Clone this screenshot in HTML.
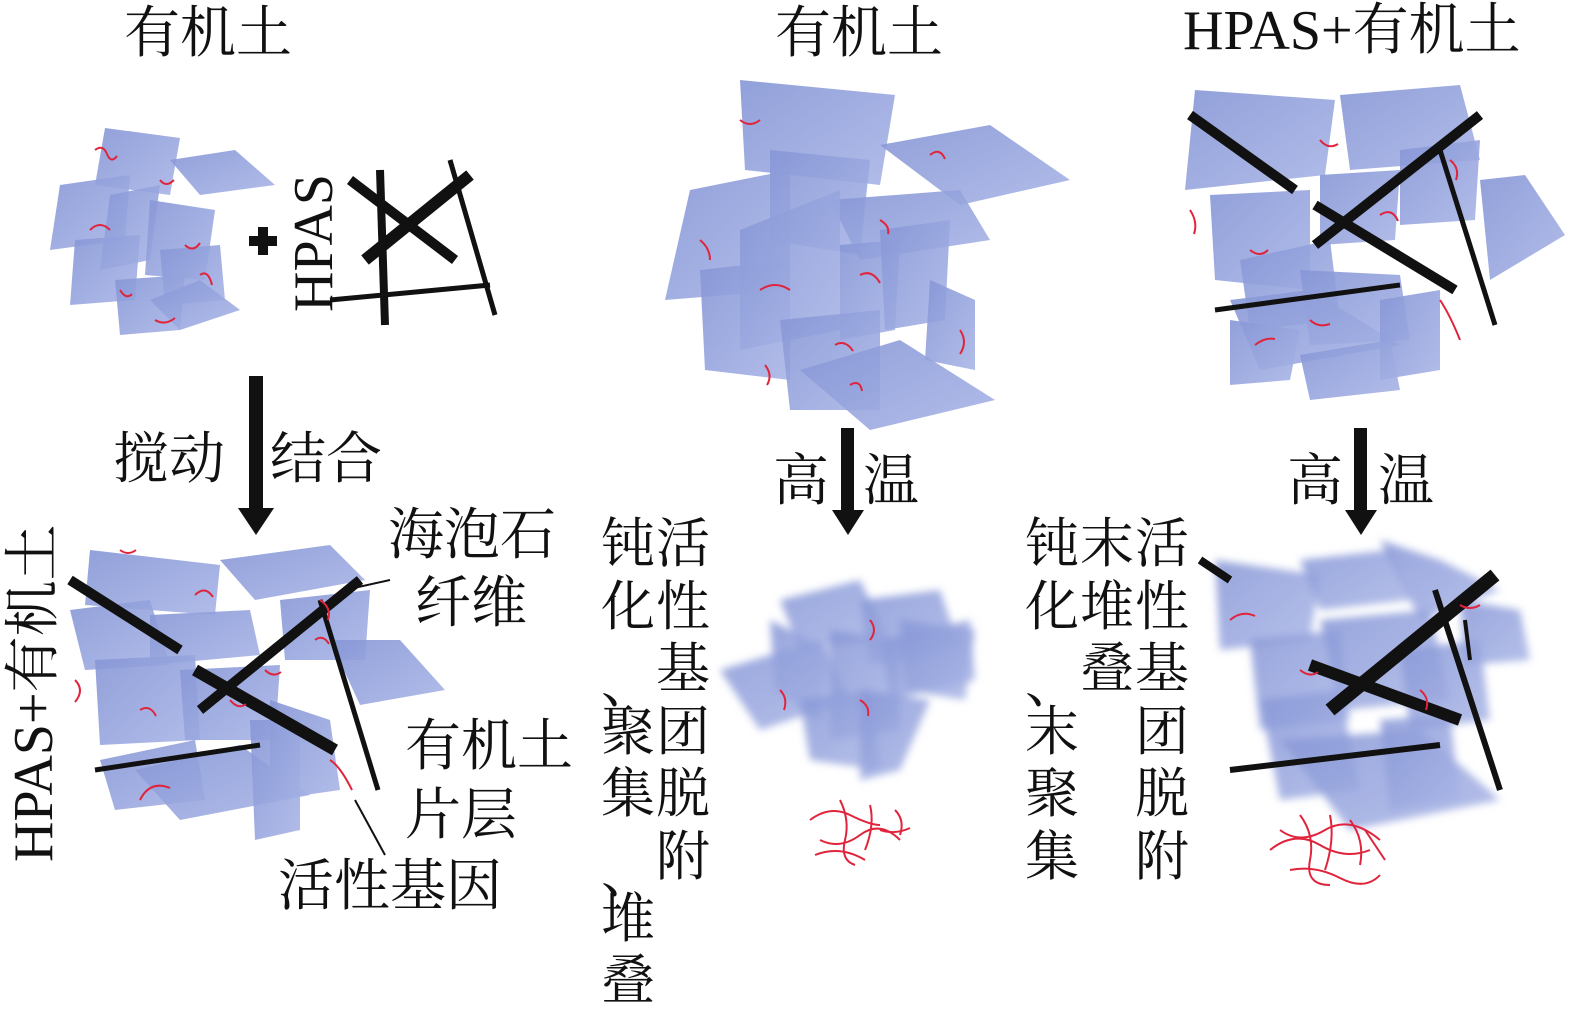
<!DOCTYPE html>
<html><head><meta charset="utf-8"><style>
html,body{margin:0;padding:0;background:#fff;}
svg{display:block}
text{font-family:"Liberation Serif","Noto Serif CJK SC",serif;fill:#111;}
</style></head><body>
<svg width="1575" height="1018" viewBox="0 0 1575 1018" xmlns="http://www.w3.org/2000/svg">
<defs>
<linearGradient id="g" x1="0" y1="0" x2="1" y2="1">
<stop offset="0" stop-color="#8696d6"/><stop offset="1" stop-color="#a9b5e6"/></linearGradient>
<filter id="bl"><feGaussianBlur stdDeviation="4"/></filter>
</defs>
<g fill="url(#g)" fill-opacity="0.9" stroke="none">
<polygon points="105,128 180,138 170,195 95,185"/>
<polygon points="60,185 130,175 125,240 50,250"/>
<polygon points="170,160 235,150 275,185 200,195"/>
<polygon points="110,195 160,185 150,260 100,270"/>
<polygon points="150,200 215,210 205,280 145,275"/>
<polygon points="75,240 140,235 135,300 70,305"/>
<polygon points="115,280 185,275 180,330 120,335"/>
<polygon points="160,250 220,245 225,300 165,305"/>
<polygon points="150,300 200,280 240,310 180,330"/>
<polygon points="740,80 895,95 880,185 745,170"/>
<polygon points="880,145 990,125 1070,180 960,205"/>
<polygon points="690,190 790,170 790,290 665,300"/>
<polygon points="770,150 870,160 860,255 770,240"/>
<polygon points="830,200 960,190 990,240 860,260"/>
<polygon points="740,230 840,190 840,330 740,350"/>
<polygon points="700,270 790,260 790,380 705,370"/>
<polygon points="840,245 900,240 895,330 840,340"/>
<polygon points="880,230 950,220 945,320 885,330"/>
<polygon points="930,280 975,300 975,370 925,360"/>
<polygon points="780,320 880,310 880,410 790,410"/>
<polygon points="800,370 900,340 995,400 870,430"/>
<polygon points="1195,90 1335,100 1325,175 1185,190"/>
<polygon points="1340,95 1460,85 1480,160 1350,170"/>
<polygon points="1320,175 1400,170 1395,240 1320,245"/>
<polygon points="1210,195 1310,190 1310,290 1215,280"/>
<polygon points="1400,150 1480,140 1475,220 1400,225"/>
<polygon points="1480,180 1525,175 1565,235 1490,280"/>
<polygon points="1240,260 1330,240 1340,320 1250,330"/>
<polygon points="1300,270 1400,275 1410,340 1310,345"/>
<polygon points="1230,300 1310,290 1400,345 1260,370"/>
<polygon points="1230,320 1300,330 1290,380 1230,385"/>
<polygon points="1380,300 1440,290 1440,370 1380,380"/>
<polygon points="1300,355 1390,340 1400,390 1310,400"/>
<polygon points="90,550 220,565 215,615 85,605"/>
<polygon points="220,560 330,545 365,580 255,600"/>
<polygon points="70,610 150,600 170,665 85,670"/>
<polygon points="150,615 250,610 260,655 150,665"/>
<polygon points="280,600 370,590 365,660 285,660"/>
<polygon points="330,640 400,640 445,690 360,705"/>
<polygon points="95,660 195,655 200,740 100,745"/>
<polygon points="180,670 280,665 275,740 185,740"/>
<polygon points="270,700 330,720 340,790 270,800"/>
<polygon points="100,760 195,740 205,800 115,810"/>
<polygon points="135,770 240,745 310,795 180,820"/>
<polygon points="250,720 300,720 300,830 255,840"/>
</g>
<g fill="url(#g)" fill-opacity="0.85" filter="url(#bl)">
<polygon points="780,600 860,580 890,640 800,650"/>
<polygon points="860,600 940,590 960,650 870,665"/>
<polygon points="770,620 830,650 820,720 775,690"/>
<polygon points="720,670 820,640 850,700 760,730"/>
<polygon points="830,630 900,640 900,730 830,740"/>
<polygon points="880,640 970,620 975,680 890,700"/>
<polygon points="800,700 870,690 880,770 810,760"/>
<polygon points="860,690 930,700 900,770 860,780"/>
<polygon points="900,620 975,630 965,700 905,690"/>
<polygon points="1215,560 1320,575 1310,640 1220,650"/>
<polygon points="1300,560 1390,550 1410,600 1320,610"/>
<polygon points="1380,540 1440,560 1500,590 1420,620"/>
<polygon points="1460,600 1520,610 1530,660 1465,665"/>
<polygon points="1250,640 1340,630 1350,720 1260,730"/>
<polygon points="1320,620 1430,610 1450,700 1340,710"/>
<polygon points="1400,650 1480,640 1490,720 1410,730"/>
<polygon points="1260,700 1340,690 1360,790 1280,800"/>
<polygon points="1280,740 1420,730 1500,800 1350,830"/>
<polygon points="1380,720 1450,715 1460,800 1390,810"/>
</g>
<g stroke="#111" stroke-linecap="butt">
<line x1="365" y1="260" x2="470" y2="175" stroke-width="12"/>
<line x1="350" y1="180" x2="455" y2="260" stroke-width="10"/>
<line x1="380" y1="170" x2="385" y2="325" stroke-width="8"/>
<line x1="450" y1="160" x2="495" y2="315" stroke-width="5"/>
<line x1="330" y1="300" x2="490" y2="285" stroke-width="5"/>
<line x1="1190" y1="115" x2="1295" y2="190" stroke-width="10"/>
<line x1="1315" y1="205" x2="1455" y2="290" stroke-width="10"/>
<line x1="1315" y1="245" x2="1480" y2="115" stroke-width="10"/>
<line x1="1440" y1="150" x2="1495" y2="325" stroke-width="5"/>
<line x1="1215" y1="310" x2="1400" y2="285" stroke-width="5"/>
<line x1="70" y1="580" x2="180" y2="650" stroke-width="10"/>
<line x1="195" y1="670" x2="335" y2="750" stroke-width="12"/>
<line x1="200" y1="710" x2="360" y2="580" stroke-width="10"/>
<line x1="320" y1="600" x2="378" y2="790" stroke-width="5"/>
<line x1="95" y1="770" x2="260" y2="745" stroke-width="5"/>
<line x1="1200" y1="560" x2="1230" y2="580" stroke-width="8"/>
<line x1="1330" y1="710" x2="1495" y2="575" stroke-width="14"/>
<line x1="1310" y1="665" x2="1460" y2="720" stroke-width="12"/>
<line x1="1435" y1="590" x2="1500" y2="790" stroke-width="6"/>
<line x1="1230" y1="770" x2="1440" y2="745" stroke-width="6"/>
<line x1="1465" y1="620" x2="1470" y2="660" stroke-width="4"/>
<line x1="345" y1="590" x2="390" y2="580" stroke-width="2"/>
<line x1="355" y1="800" x2="385" y2="855" stroke-width="2"/>
</g>
<g stroke="#e0243c" stroke-width="2" fill="none">
<path d="M95,150 q8,-6 12,4 t10,2"/><path d="M160,180 q6,8 14,0"/><path d="M90,230 q10,-10 20,0"/><path d="M185,245 q8,8 15,-2"/><path d="M120,290 q6,10 12,4"/><path d="M200,275 q8,-6 12,10"/><path d="M155,320 q10,6 20,-2"/>
<path d="M740,120 q10,8 20,0"/><path d="M930,155 q10,-8 15,4"/><path d="M700,240 q10,8 10,20"/><path d="M760,290 q15,-10 30,0"/><path d="M860,275 q12,-6 20,8"/><path d="M880,220 q10,6 8,14"/><path d="M960,330 q8,12 0,24"/><path d="M835,345 q10,-6 18,6"/><path d="M765,365 q8,10 2,20"/><path d="M850,385 q10,-6 12,6"/>
<path d="M1320,140 q8,10 18,4"/><path d="M1450,160 q10,8 6,20"/><path d="M1190,210 q8,12 4,24"/><path d="M1380,215 q12,-8 18,6"/><path d="M1250,250 q10,8 18,0"/><path d="M1440,300 q10,15 20,40"/><path d="M1255,345 q10,-8 20,-6"/><path d="M1310,320 q8,8 20,4"/>
<path d="M120,550 q8,6 16,0"/><path d="M195,595 q10,-10 18,2"/><path d="M320,600 q12,8 8,20"/><path d="M75,680 q10,10 0,22"/><path d="M140,710 q10,-6 16,6"/><path d="M230,700 q8,10 16,4"/><path d="M140,800 q10,-20 30,-12"/><path d="M330,760 q10,6 22,30"/><path d="M315,640 q8,-6 14,4"/><path d="M265,670 q8,8 16,2"/>
<path d="M870,620 q8,10 0,20"/><path d="M780,690 q8,8 4,20"/><path d="M860,700 q10,6 8,16"/>
<path d="M1230,620 q12,-10 25,-4"/><path d="M1460,605 q10,6 20,0"/><path d="M1420,690 q10,8 6,20"/><path d="M1300,670 q10,8 18,2"/>
<path d="M810,820 q20,-15 40,-5 t30,10"/><path d="M820,840 q20,10 40,-5 t40,5"/><path d="M815,855 q25,-10 50,5"/><path d="M840,800 q10,20 5,40 t10,25"/><path d="M870,805 q5,20 -5,45"/><path d="M895,810 q10,10 5,25"/><path d="M880,830 q15,5 30,-2"/>
<path d="M1270,850 q25,-20 50,-5 t50,5"/><path d="M1280,830 q20,15 45,0 t55,10"/><path d="M1300,815 q15,20 10,45 t20,25"/><path d="M1330,815 q5,25 -5,55"/><path d="M1350,820 q15,20 10,45"/><path d="M1290,870 q25,-5 50,8 t40,-3"/><path d="M1365,830 q10,15 20,30"/>
</g>
<g fill="#111">
<rect x="249" y="376" width="14" height="135"/><polygon points="238,508 274,508 256,535"/>
<rect x="841" y="428" width="13" height="85"/><polygon points="832,510 864,510 848,535"/>
<rect x="1354" y="428" width="13" height="85"/><polygon points="1345,510 1377,510 1361,535"/>
<rect x="258" y="227" width="10" height="28"/><rect x="249" y="236" width="28" height="10"/>
</g>
<g font-size="56">
<text x="124" y="52">有机土</text>
<text x="775" y="52">有机土</text>
<text x="1183" y="49">HPAS+有机土</text>
<text x="113" y="478">搅动</text>
<text x="270" y="478">结合</text>
<text x="773" y="500">高</text>
<text x="863" y="500">温</text>
<text x="1287" y="500">高</text>
<text x="1378" y="500">温</text>
<text x="388" y="554">海泡石</text>
<text x="415" y="622">纤维</text>
<text x="405" y="765">有机土</text>
<text x="405" y="834">片层</text>
<text x="278" y="905">活性基因</text>
<text transform="translate(332,312) rotate(-90)">HPAS</text>
<text transform="translate(52,862) rotate(-90)">HPAS+有机土</text>
</g>
<g font-size="54">
<text x="601" y="562">钝</text><text x="656" y="562">活</text>
<text x="601" y="625">化</text><text x="656" y="625">性</text>
<text x="601" y="702">、</text><text x="656" y="687">基</text>
<text x="601" y="750">聚</text><text x="656" y="750">团</text>
<text x="601" y="812">集</text><text x="656" y="812">脱</text>
<text x="601" y="892">、</text><text x="656" y="875">附</text>
<text x="601" y="937">堆</text>
<text x="601" y="999">叠</text>
<text x="1025" y="562">钝</text><text x="1080" y="562">末</text><text x="1135" y="562">活</text>
<text x="1025" y="625">化</text><text x="1080" y="625">堆</text><text x="1135" y="625">性</text>
<text x="1025" y="702">、</text><text x="1080" y="687">叠</text><text x="1135" y="687">基</text>
<text x="1025" y="750">末</text><text x="1135" y="750">团</text>
<text x="1025" y="812">聚</text><text x="1135" y="812">脱</text>
<text x="1025" y="875">集</text><text x="1135" y="875">附</text>
</g>
</svg>
</body></html>
